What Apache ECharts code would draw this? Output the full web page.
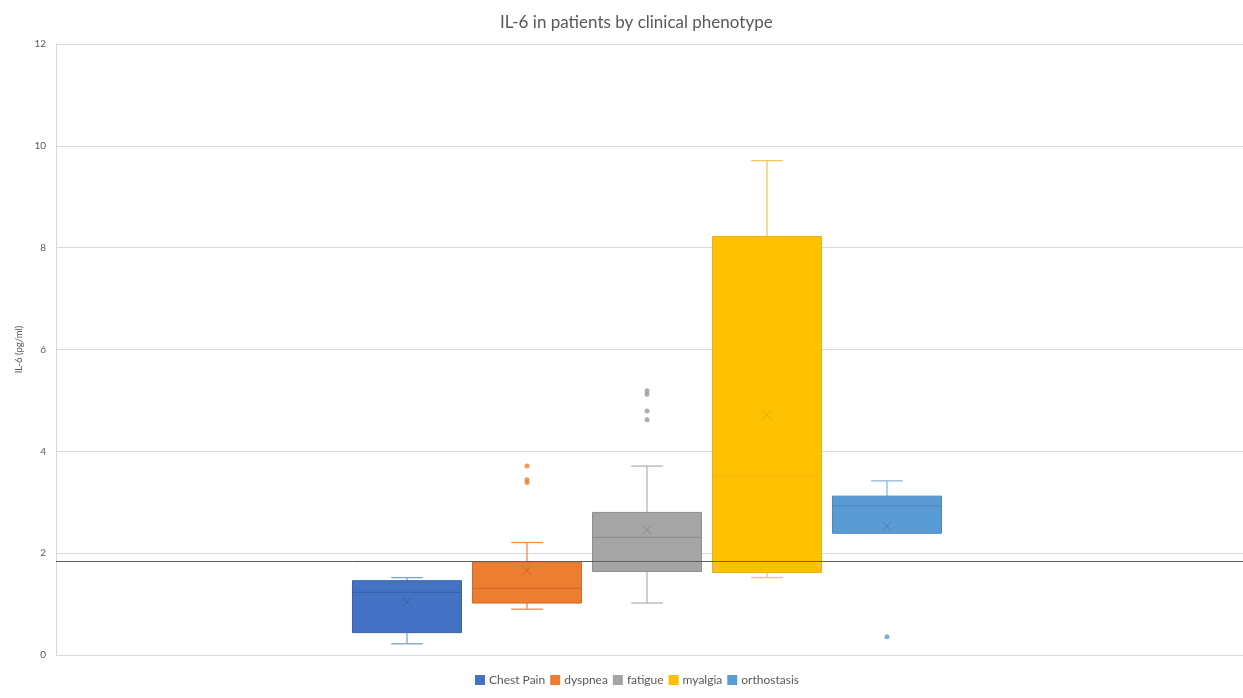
<!DOCTYPE html>
<html>
<head>
<meta charset="utf-8">
<script src="https://cdn.jsdelivr.net/npm/echarts@6/dist/echarts.min.js"></script>
<style>html,body{margin:0;padding:0;background:#fff}#c{width:1243px;height:698px}</style>
</head>
<body>
<div id="c"></div>
<script>
// ---- data ----
const seriesNames = ['Chest Pain', 'dyspnea', 'fatigue', 'myalgia', 'orthostasis'];
const yTicks = [0, 2, 4, 6, 8, 10, 12];
// [min whisker, Q1, median, Q3, max whisker]
const chestPainBox = [0.22, 0.44, 1.23, 1.46, 1.52];
const dyspneaBox = [0.90, 1.02, 1.31, 1.83, 2.21];
const fatigueBox = [1.02, 1.64, 2.31, 2.80, 3.71];
const myalgiaBox = [1.52, 1.62, 3.52, 8.22, 9.71];
const orthostasisBox = [2.39, 2.39, 2.93, 3.12, 3.42];
const means = [1.04, 1.66, 2.46, 4.71, 2.53];
const chestPainOutliers = [];
const dyspneaOutliers = [3.71, 3.44, 3.39];
const fatigueOutliers = [5.19, 5.12, 4.79, 4.62];
const myalgiaOutliers = [];
const orthostasisOutliers = [0.36];
const referenceLevel = 1.84;

const boxes = [chestPainBox, dyspneaBox, fatigueBox, myalgiaBox, orthostasisBox];
const outliers = [chestPainOutliers, dyspneaOutliers, fatigueOutliers, myalgiaOutliers, orthostasisOutliers];
const fills = ['#4472C4', '#ED7D31', '#A5A5A5', '#FFC000', '#5B9BD5'];
const borders = ['#3A62AC', '#D0692A', '#8E8E8E', '#E6B020', '#4C86BE'];
const medianCols = ['#3A62AC', '#D0692A', '#8E8E8E', '#F0B818', '#4C86BE'];
const whiskerCols = ['#7F9ED6', '#EE8C4E', '#B5B5B5', '#F2C75A', '#8DB5DC'];
const markCols = ['#3A5E9E', '#C0622A', '#7F7F7F', '#D9A300', '#3F78B0'];
const outlierCols = ['#4472C4', '#ED7D31', '#999999', '#FFC000', '#5B9BD5'];

const FONT = 'Lato';
const series = [];
// dummy series in the main grid for the reference line
series.push({
  type: 'line', xAxisIndex: 0, yAxisIndex: 0, data: [], silent: true,
  markLine: {
    silent: true, symbol: 'none', label: {show: false},
    lineStyle: {color: '#5f5f5f', width: 1, type: 'solid'},
    data: [{yAxis: referenceLevel}]
  }
});

function makeRender(i) {
  return function (params, api) {
    const x = api.coord([api.value(0), 0])[0];
    const y = k => api.coord([0, api.value(k)])[1];
    const yMin = y(1), yQ1 = y(2), yMed = y(3), yQ3 = y(4), yMax = y(5);
    const bw = api.size([1, 0])[0] * 109 / 120;
    const cap = bw * 0.29;
    const wl = {stroke: whiskerCols[i], lineWidth: 1.3};
    const children = [];
    if (yMax < yQ3 - 0.5) {
      children.push({type: 'line', shape: {x1: x, y1: yQ3, x2: x, y2: yMax}, style: wl});
      children.push({type: 'line', shape: {x1: x - cap / 2, y1: yMax, x2: x + cap / 2, y2: yMax}, style: wl});
    }
    if (yMin > yQ1 + 0.5) {
      children.push({type: 'line', shape: {x1: x, y1: yQ1, x2: x, y2: yMin}, style: wl});
      children.push({type: 'line', shape: {x1: x - cap / 2, y1: yMin, x2: x + cap / 2, y2: yMin}, style: wl});
    }
    children.push({type: 'rect', shape: {x: x - bw / 2, y: yQ3, width: bw, height: yQ1 - yQ3},
      style: {fill: fills[i], stroke: borders[i], lineWidth: 1}});
    children.push({type: 'line', shape: {x1: x - bw / 2, y1: yMed, x2: x + bw / 2, y2: yMed},
      style: {stroke: medianCols[i], lineWidth: 1.2}});
    return {type: 'group', children: children};
  };
}

seriesNames.forEach((n, i) => {
  series.push({
    name: n, type: 'custom', xAxisIndex: 2, yAxisIndex: 1,
    renderItem: makeRender(i),
    itemStyle: {color: fills[i]},
    encode: {x: 0, y: [1, 2, 3, 4, 5]},
    data: [[i].concat(boxes[i])],
    silent: true
  });
});
seriesNames.forEach((n, i) => {
  if (outliers[i].length) {
    series.push({
      name: n + ' outliers', type: 'scatter', xAxisIndex: 2, yAxisIndex: 1,
      symbol: 'circle', symbolSize: 5, silent: true,
      itemStyle: {color: outlierCols[i]},
      data: outliers[i].map(v => [i, v])
    });
  }
  series.push({
    name: n + ' mean', type: 'scatter', xAxisIndex: 2, yAxisIndex: 1,
    symbol: 'path://M0,0L10,10M10,0L0,10', symbolSize: 9, silent: true,
    itemStyle: {color: 'rgba(0,0,0,0)', borderColor: markCols[i], borderWidth: 1, opacity: 0.8},
    data: [[i, means[i]]]
  });
});

const chart = echarts.init(document.getElementById('c'));
chart.setOption({
  animation: false,
  backgroundColor: '#fff',
  title: {
    text: 'IL-6 in patients by clinical phenotype', left: 495, top: 9,
    textStyle: {fontFamily: FONT, fontSize: 17, fontWeight: 'normal', color: '#595959'}
  },
  legend: {
    data: seriesNames, bottom: 7, left: 470, icon: 'rect',
    itemWidth: 10, itemHeight: 10, itemGap: 5,
    textStyle: {fontFamily: FONT, fontSize: 12, color: '#595959', padding: [0, 0, 0, -1]}
  },
  grid: [
    {left: 56, right: 0, top: 44, bottom: 43, containLabel: false},
    {left: 292, width: 710, top: 44, bottom: 43, containLabel: false}
  ],
  xAxis: [
    {type: 'category', gridIndex: 0, data: [''], axisTick: {show: false}, axisLabel: {show: false},
     axisLine: {lineStyle: {color: '#d9d9d9'}}},
    {type: 'category', gridIndex: 1, data: [''], show: false},
    {type: 'value', gridIndex: 1, min: -0.958333, max: 4.958333, show: false}
  ],
  yAxis: [
    {type: 'value', gridIndex: 0, min: yTicks[0], max: yTicks[yTicks.length - 1], interval: 2,
     name: 'IL-6 (pg/ml)', nameLocation: 'middle', nameGap: 30, nameRotate: 90,
     nameTextStyle: {fontFamily: FONT, fontSize: 9.5, color: '#595959'},
     axisLine: {show: true, lineStyle: {color: '#d9d9d9'}}, axisTick: {show: false},
     axisLabel: {fontFamily: FONT, fontSize: 10, color: '#595959', margin: 10},
     splitLine: {lineStyle: {color: '#d9d9d9'}}},
    {type: 'value', gridIndex: 1, min: 0, max: 12, show: false}
  ],
  series: series
});
</script>
</body>
</html>
